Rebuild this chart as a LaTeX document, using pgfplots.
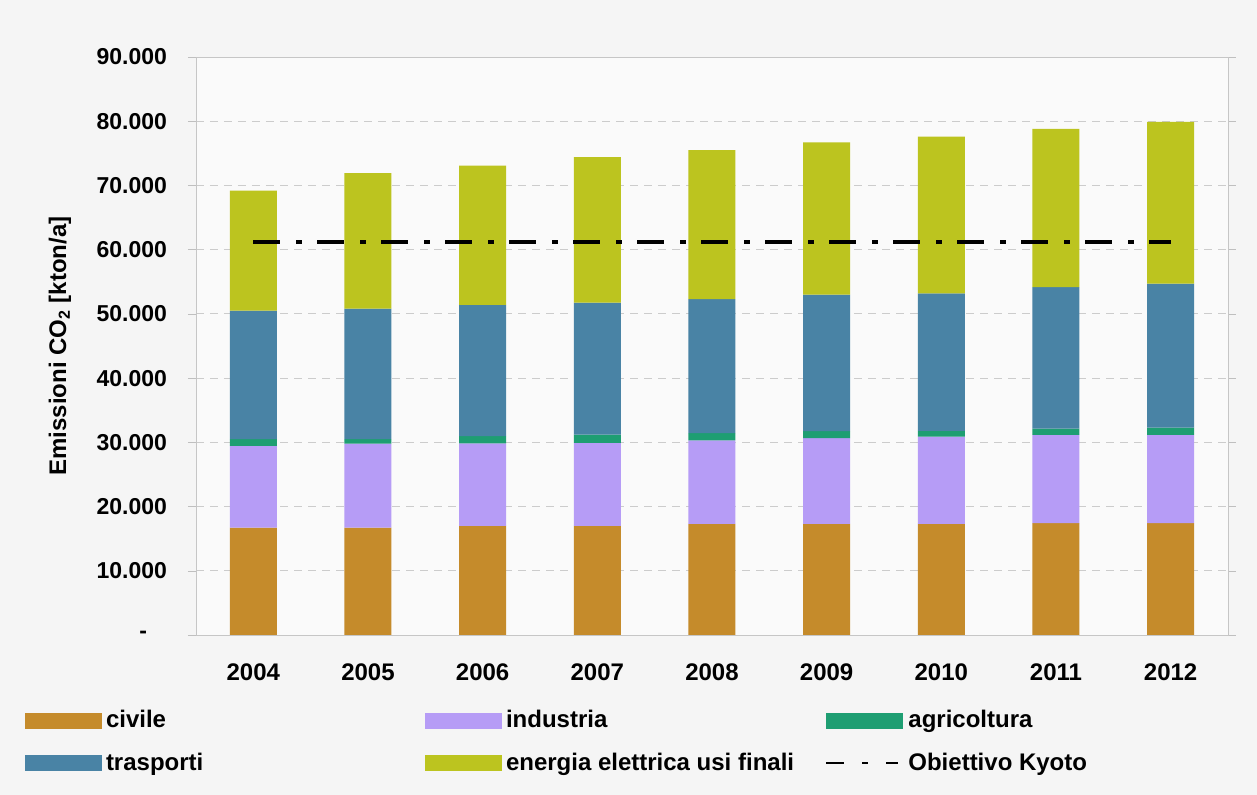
\documentclass[border=0pt]{standalone}
\usepackage{fontspec}
\setmainfont{Liberation Sans}
\usepackage{pgfplots}
\usepackage{pgfplotstable}
\pgfplotsset{compat=1.18}

\definecolor{civ}{HTML}{C58B2B}
\definecolor{ind}{HTML}{B69CF6}
\definecolor{agr}{HTML}{1E9E72}
\definecolor{tra}{HTML}{4983A5}
\definecolor{ene}{HTML}{BCC41F}

% increments per sector (kton/a), stacked
\pgfplotstableread{
x civ   ind   agr  tra   ene
0 16700 12750 1050 20000 18700
1 16700 13100 700  20300 21100
2 17000 12850 1100 20450 21700
3 17000 12900 1300 20550 22650
4 17300 13000 1150 20850 23200
5 17300 13350 1100 21250 23700
6 17300 13600 900  21400 24400
7 17400 13750 1000 22000 24650
8 17400 13750 1150 22400 25200
}\emissioni

\pgfplotsset{
  barleg/.style={legend image code/.code={\fill[##1] (0pt,-4pt) rectangle (38.5pt,4pt);}},
}

\begin{document}
\begin{tikzpicture}[font=\bfseries\fontsize{12}{14}\selectfont]
\useasboundingbox (-98pt,-80pt) rectangle (530.5pt,317.5pt);
\fill[black!4] (-98pt,-80pt) rectangle (530.5pt,317.5pt);
\begin{axis}[
    at={(0,0)}, anchor=south west,
    scale only axis,
    width=516pt, height=289pt,
    xmin=-0.5, xmax=8.5,
    ymin=0, ymax=90000,
    ybar stacked,
    reverse stacked plots=false,
    bar width=23.5pt,
    axis background/.style={fill=black!2},
    axis line style={gray!45},
    xtick={0,...,8},
    xticklabels={2004,2005,2006,2007,2008,2009,2010,2011,2012},
    xtick style={draw=none},
    ytick={0,10000,20000,30000,40000,50000,60000,70000,80000,90000},
    yticklabels={{-\hspace*{10pt}},10.000,20.000,30.000,40.000,50.000,60.000,70.000,80.000,90.000},
    scaled y ticks=false,
    tick align=outside,
    ytick style={gray!50},
    major tick length=4pt,
    ymajorgrids,
    major grid style={gray!40, dash pattern=on 4pt off 3pt},
    xticklabel style={font=\bfseries\fontsize{12}{14}\selectfont, yshift=-7pt},
    yticklabel style={font=\bfseries\fontsize{11.5}{14}\selectfont, xshift=-7pt},
    ylabel={Emissioni CO\textsubscript{2} [kton/a]},
    ylabel style={at={(axis description cs:-0.1318,0.5)}, anchor=center, font=\bfseries\fontsize{12}{14}\selectfont},
    legend columns=3,
    legend cell align=left,
    legend style={draw=none, fill=none, inner sep=0pt, outer sep=0pt,
        at={(axis description cs:-0.1657,-0.1851)}, anchor=west,
        row sep=7pt, column sep=0pt,
        font=\bfseries\fontsize{12}{14}\selectfont},
]
\addplot[fill=civ, draw=none, barleg] table[x=x, y=civ] {\emissioni};
\addlegendentry{\makebox[157.5pt][l]{civile}}
\addplot[fill=ind, draw=none, barleg] table[x=x, y=ind] {\emissioni};
\addlegendentry{\makebox[157.5pt][l]{industria}}
\addplot[fill=agr, draw=none, barleg] table[x=x, y=agr] {\emissioni};
\addlegendentry{agricoltura}
\addplot[fill=tra, draw=none, barleg] table[x=x, y=tra] {\emissioni};
\addlegendentry{\makebox[157.5pt][l]{trasporti}}
\addplot[fill=ene, draw=none, barleg] table[x=x, y=ene] {\emissioni};
\addlegendentry{\makebox[157.5pt][l]{energia elettrica usi finali}}
\addplot[sharp plot, stack plots=false, no marks, black, line width=2pt,
    dash pattern=on 13.5pt off 8pt on 3pt off 7.5pt,
    legend image code/.code={\draw[black, line width=1.2pt, dash pattern=on 9pt off 9pt on 3pt off 9pt on 6pt] (0pt,0pt) -- (38.5pt,0pt);}]
    coordinates {(0,61200) (8,61200)};
\addlegendentry{Obiettivo Kyoto}
\end{axis}
\end{tikzpicture}
\end{document}
